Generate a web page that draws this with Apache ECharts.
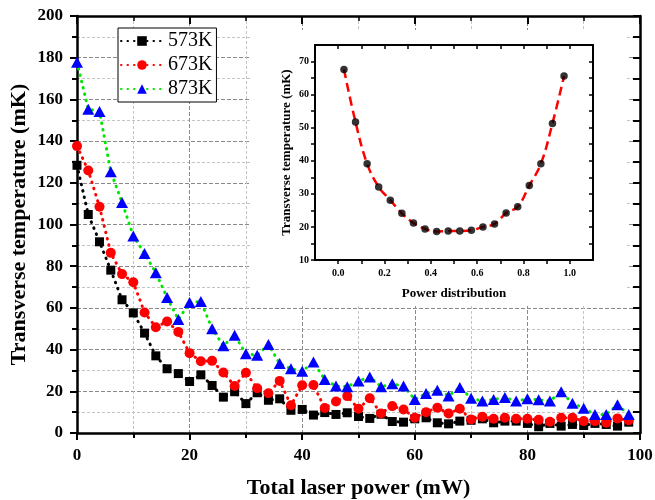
<!DOCTYPE html>
<html>
<head>
<meta charset="utf-8">
<script src="https://cdn.jsdelivr.net/npm/echarts@6/dist/echarts.min.js"></script>
<style>
  html, body { margin: 0; padding: 0; background: #fff; }
  #chart { width: 655px; height: 500px; }
</style>
</head>
<body>
<div id="chart"></div>
<script>
// main plot: total laser power (mW)
const power = [0, 2, 4, 6, 8, 10, 12, 14, 16, 18, 20, 22, 24, 26, 28, 30, 32, 34, 36, 38,
  40, 42, 44, 46, 48, 50, 52, 54, 56, 58, 60, 62, 64, 66, 68, 70, 72, 74, 76, 78,
  80, 82, 84, 86, 88, 90, 92, 94, 96, 98];
const t573 = [128.4, 104.8, 91.7, 78.1, 63.9, 57.6, 47.9, 37.0, 30.8, 28.5,
  24.7, 27.9, 22.8, 17.2, 19.8, 14.1, 19.3, 15.7, 16.4, 10.9,
  11.3, 8.6, 9.8, 8.9, 9.7, 7.9, 7.0, 9.0, 5.5, 5.2,
  6.8, 7.3, 4.9, 4.4, 5.7, 6.1, 6.8, 4.9, 5.7, 5.7,
  4.6, 3.0, 4.6, 3.3, 4.1, 3.6, 4.6, 4.1, 3.3, 5.2];
const t673 = [137.6, 125.9, 108.5, 86.4, 76.2, 72.3, 57.8, 50.7, 53.5, 48.5,
  38.3, 34.4, 34.6, 29.0, 22.5, 28.9, 21.5, 19.1, 25.0, 13.3,
  22.9, 23.0, 12.0, 15.1, 17.7, 11.6, 16.7, 9.4, 12.9, 11.3,
  7.3, 10.0, 12.1, 9.4, 11.6, 6.5, 7.8, 6.8, 7.3, 6.8,
  6.8, 6.3, 5.4, 7.3, 7.3, 5.7, 5.7, 4.9, 7.0, 6.1];
const t873 = [177.8, 155.3, 154.2, 125.3, 110.6, 94.5, 86.1, 76.8, 65.0, 54.4,
  62.6, 63.1, 50.0, 41.8, 46.9, 38.0, 37.3, 42.4, 33.3, 30.8,
  29.6, 34.0, 25.7, 22.5, 22.2, 24.9, 26.9, 22.2, 23.6, 22.5,
  16.1, 18.9, 20.5, 17.8, 21.8, 16.7, 15.3, 16.1, 17.0, 15.3,
  16.4, 15.9, 15.3, 19.8, 14.3, 11.9, 8.9, 8.9, 13.5, 8.9];
const names = ['573K', '673K', '873K'];

// inset: power distribution
const dist = [0.025, 0.075, 0.125, 0.175, 0.225, 0.275, 0.325, 0.375, 0.425, 0.475,
  0.525, 0.575, 0.625, 0.675, 0.725, 0.775, 0.825, 0.875, 0.925, 0.975];
const tInset = [67.6, 51.7, 39.1, 32.1, 28.1, 24.1, 21.2, 19.4, 18.6, 18.8,
  18.8, 19.0, 20.0, 20.9, 24.2, 26.1, 32.5, 39.1, 51.3, 65.6];

const font = 'Liberation Serif';
const pairs = (xs, ys) => xs.map((x, i) => [x, ys[i]]);

const axLine = { show: true, onZero: false, lineStyle: { color: '#000', width: 2.5 } };
const lbl = { fontFamily: font, fontWeight: 'bold', fontSize: 17, color: '#000' };

function dotted(color) {
  return { color: color, width: 3, type: [0.5, 6], cap: 'round' };
}

let myChart = echarts.init(document.getElementById('chart'));
let option = {
  animation: false,
  backgroundColor: '#fff',
  grid: [
    { left: 77, right: 15, top: 16, bottom: 67, outerBoundsMode: 'none' },
    { left: 315, right: 62, top: 45, bottom: 240, outerBoundsMode: 'none' }
  ],
  graphic: [{
    type: 'rect', z: 1,
    shape: { x: 250, y: 30, width: 377, height: 276 },
    style: { fill: '#fff' }
  }],
  legend: {
    orient: 'vertical', left: 118, top: 28,
    itemWidth: 42, itemHeight: 12, itemGap: 4,
    padding: [3, 4, 3, 2],
    backgroundColor: '#fff', borderColor: '#000', borderWidth: 1,
    textStyle: { fontFamily: font, fontSize: 20, color: '#000' },
    data: names
  },
  xAxis: [
    {
      type: 'value', gridIndex: 0, min: 0, max: 100, interval: 20,
      name: 'Total laser power (mW)', nameLocation: 'middle', nameGap: 44,
      nameMoveOverlap: false,
      nameTextStyle: { fontFamily: font, fontWeight: 'bold', fontSize: 22, color: '#000' },
      axisLine: axLine,
      axisTick: { show: true, inside: false, length: 7, lineStyle: { color: '#000', width: 2 } },
      minorTick: { show: true, splitNumber: 2, length: 5, lineStyle: { color: '#000', width: 2 } },
      axisLabel: Object.assign({ margin: 14 }, lbl),
      splitLine: { show: true, lineStyle: { color: '#8a8a8a', type: [4, 2], width: 1 } },
      minorSplitLine: { show: true, lineStyle: { color: '#c4c4c4', type: [3, 2], width: 1 } }
    },
    {
      type: 'value', gridIndex: 0, position: 'top', min: 0, max: 100, interval: 20,
      axisLine: axLine,
      axisTick: { show: true, inside: true, length: 8, lineStyle: { color: '#000', width: 2 } },
      minorTick: { show: true, splitNumber: 2, length: 5, lineStyle: { color: '#000', width: 1.5 } },
      axisLabel: { show: false }, splitLine: { show: false }
    },
    {
      type: 'value', gridIndex: 1, min: -0.1, max: 1.1, interval: 0.1, z: 3,
      name: 'Power distribution', nameLocation: 'middle', nameGap: 27,
      nameMoveOverlap: false,
      nameTextStyle: { fontFamily: font, fontWeight: 'bold', fontSize: 13, color: '#000' },
      axisLine: { show: true, onZero: false, lineStyle: { color: '#000', width: 2 } },
      axisTick: { show: true, inside: false, length: 4, lineStyle: { color: '#000', width: 1.5 } },
      axisLabel: {
        fontFamily: font, fontWeight: 'bold', fontSize: 10, color: '#000', margin: 8,
        showMinLabel: false, showMaxLabel: false,
        formatter: v => (Math.round(v * 10) % 2 === 0 ? v.toFixed(1) : '')
      },
      splitLine: { show: false }
    },
    {
      type: 'value', gridIndex: 1, position: 'top', min: -0.1, max: 1.1, interval: 0.1, z: 3,
      axisLine: { show: true, onZero: false, lineStyle: { color: '#000', width: 2 } },
      axisTick: { show: true, inside: true, length: 4, lineStyle: { color: '#000', width: 1.5 } },
      axisLabel: { show: false }, splitLine: { show: false }
    }
  ],
  yAxis: [
    {
      type: 'value', gridIndex: 0, min: 0, max: 200, interval: 20,
      name: 'Transverse temperature (mK)', nameLocation: 'middle', nameGap: 47,
      nameMoveOverlap: false,
      nameTextStyle: { fontFamily: font, fontWeight: 'bold', fontSize: 22, color: '#000' },
      axisLine: axLine,
      axisTick: { show: true, inside: false, length: 7, lineStyle: { color: '#000', width: 2 } },
      minorTick: { show: true, splitNumber: 2, length: 5, lineStyle: { color: '#000', width: 2 } },
      axisLabel: Object.assign({ margin: 14 }, lbl),
      splitLine: { show: true, lineStyle: { color: '#8a8a8a', type: [4, 2], width: 1 } },
      minorSplitLine: { show: true, lineStyle: { color: '#c4c4c4', type: [3, 2], width: 1 } }
    },
    {
      type: 'value', gridIndex: 0, position: 'right', min: 0, max: 200, interval: 20,
      axisLine: axLine,
      axisTick: { show: true, inside: true, length: 7, lineStyle: { color: '#000', width: 2 } },
      minorTick: { show: true, splitNumber: 2, length: 7, lineStyle: { color: '#000', width: 2 } },
      axisLabel: { show: false }, splitLine: { show: false }
    },
    {
      type: 'value', gridIndex: 1, min: 10, max: 75, interval: 5, z: 3,
      name: 'Transverse temperature (mK)', nameLocation: 'middle', nameGap: 22,
      nameMoveOverlap: false,
      nameTextStyle: { fontFamily: font, fontWeight: 'bold', fontSize: 13, color: '#000' },
      axisLine: { show: true, onZero: false, lineStyle: { color: '#000', width: 2 } },
      axisTick: { show: true, inside: false, length: 4, lineStyle: { color: '#000', width: 1.5 } },
      axisLabel: {
        fontFamily: font, fontWeight: 'bold', fontSize: 10, color: '#000', margin: 6,
        showMaxLabel: false,
        formatter: v => (v % 10 === 0 ? String(v) : '')
      },
      splitLine: { show: false }
    },
    {
      type: 'value', gridIndex: 1, position: 'right', min: 10, max: 75, interval: 5, z: 3,
      axisLine: { show: true, onZero: false, lineStyle: { color: '#000', width: 2 } },
      axisTick: { show: true, inside: true, length: 4, lineStyle: { color: '#000', width: 1.5 } },
      axisLabel: { show: false }, splitLine: { show: false }
    }
  ],
  series: [
    {
      name: names[0], type: 'line', xAxisIndex: 0, yAxisIndex: 0,
      data: pairs(power, t573),
      symbol: 'rect', symbolSize: 9,
      itemStyle: { color: '#000' }, lineStyle: dotted('#000')
    },
    {
      name: names[1], type: 'line', xAxisIndex: 0, yAxisIndex: 0,
      data: pairs(power, t673),
      symbol: 'circle', symbolSize: 10,
      itemStyle: { color: '#ff0000' }, lineStyle: dotted('#ff0000')
    },
    {
      name: names[2], type: 'line', xAxisIndex: 0, yAxisIndex: 0,
      data: pairs(power, t873),
      symbol: 'triangle', symbolSize: [12, 11],
      itemStyle: { color: '#0000ff' }, lineStyle: dotted('#00e600')
    },
    {
      name: 'fit', type: 'line', xAxisIndex: 2, yAxisIndex: 2, z: 4,
      data: pairs(dist, tInset), smooth: 0.4, showSymbol: false,
      lineStyle: { color: '#ff0000', width: 2.5, type: [9, 5] }
    },
    {
      name: 'inset', type: 'scatter', xAxisIndex: 2, yAxisIndex: 2, z: 5,
      data: pairs(dist, tInset), symbol: 'circle', symbolSize: 7.5,
      itemStyle: { color: '#000' }
    }
  ]
};
myChart.setOption(option);
</script>
</body>
</html>
